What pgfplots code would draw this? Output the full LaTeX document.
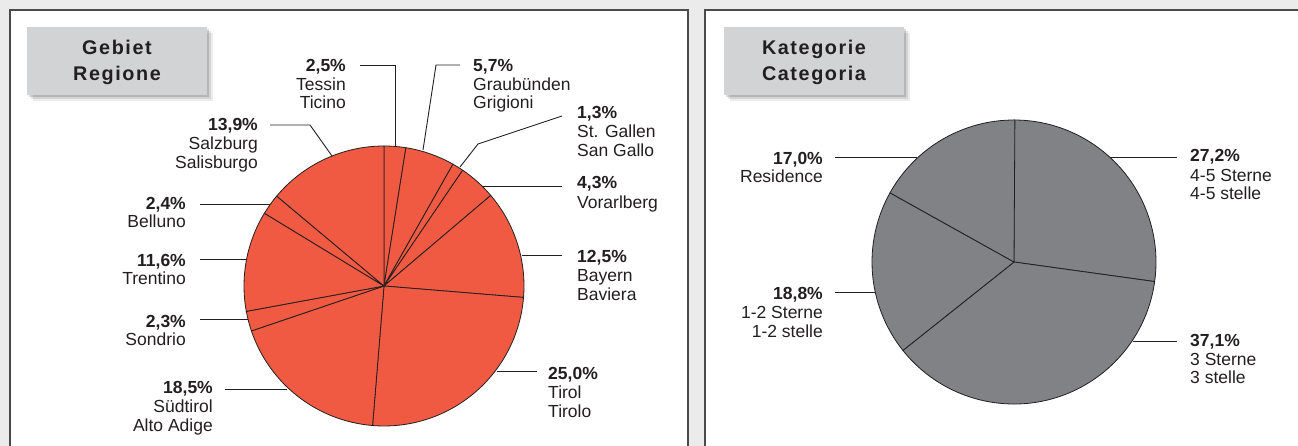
\documentclass[border=0pt]{standalone}
\usepackage{pgfplots}
\usepackage{pgfplotstable}
\pgfplotsset{compat=1.18}
\usepackage{fontspec}
\setmainfont{Liberation Sans}
\newfontfamily\titlefont[LetterSpace=8]{Liberation Sans}
\definecolor{bggray}{HTML}{EAEBEA}
\definecolor{panelborder}{HTML}{4A4A4A}
\definecolor{pieRed}{HTML}{F15A42}
\definecolor{pieGray}{HTML}{808285}
\definecolor{titlebox}{HTML}{D1D3D4}
\definecolor{ink}{HTML}{231F20}
\tikzset{lbl/.style={text=ink, inner sep=0pt, font=\fontsize{17.5}{19}\selectfont},
         ttl/.style={text=ink, inner sep=0pt, anchor=base, font=\titlefont\bfseries\fontsize{19.8}{22}\selectfont}}

% shares in clockwise order, starting at 12 o'clock
\pgfplotstableread{
name share
Tessin 2.5
Graubuenden 5.7
StGallen 1.3
Vorarlberg 4.3
Bayern 12.5
Tirol 25.0
Suedtirol 18.5
Sondrio 2.3
Trentino 11.6
Belluno 2.4
Salzburg 13.9
}\regiontab
\pgfplotstableread{
name share
Stars45 27.2
Stars3 37.1
Stars12 18.8
Residence 17.0
}\cattab

\newcommand\drawpie[5]{% #1 table, #2 cx, #3 cy, #4 radius, #5 colour
  \pgfplotstablegetrowsof{#1}%
  \pgfmathtruncatemacro\lastrow{\pgfplotsretval-1}%
  \gdef\cum{90}%
  \pgfplotsforeachungrouped \i in {0,...,\lastrow}{%
    \pgfplotstablegetelem{\i}{share}\of{#1}%
    \pgfmathsetmacro\endang{\cum-3.6*\pgfplotsretval}%
    \edef\wedgecmd{\noexpand\filldraw[fill=#5,draw=ink,line width=0.8pt,line join=round] (axis cs:#2,#3) -- ++(\cum:#4pt) arc[start angle=\cum,end angle=\endang,radius=#4pt] -- cycle;}%
    \wedgecmd
    \global\let\cum\endang
  }%
}
\newcommand\tbox[2]{% x1 x2
  \fill[black,opacity=0.08] (axis cs:#1+6,33) rectangle (axis cs:#2+6,101);
  \fill[black,opacity=0.10] (axis cs:#1+4,31) rectangle (axis cs:#2+4,99);
  \fill[black,opacity=0.14] (axis cs:#1+2,29) rectangle (axis cs:#2+2,97);
  \fill[titlebox] (axis cs:#1,27) rectangle (axis cs:#2,95);
}

\begin{document}
\begin{tikzpicture}
\useasboundingbox (0,0) rectangle (1298pt,446pt);
\begin{axis}[
  at={(0,0)}, anchor=south west,
  width=1298pt, height=446pt, scale only axis,
  xmin=0, xmax=1298, ymin=0, ymax=446, y dir=reverse,
  hide axis, clip=false,
]
% background and panels
\fill[bggray] (axis cs:0,0) rectangle (axis cs:1298,446);
\filldraw[fill=white, draw=panelborder, line width=1.6pt] (axis cs:10,10) rectangle (axis cs:688,470);
\filldraw[fill=white, draw=panelborder, line width=1.6pt] (axis cs:705,10) rectangle (axis cs:1320,470);

% title boxes
\tbox{27}{207}
\tbox{724}{904}
\node[ttl] at (axis cs:117,55) {Gebiet};
\node[ttl] at (axis cs:117,81) {Regione};
\node[ttl] at (axis cs:814,55) {Kategorie};
\node[ttl] at (axis cs:814,81) {Categoria};

% pies
\drawpie{\regiontab}{384}{286}{140}{pieRed}
\drawpie{\cattab}{1014}{262}{142}{pieGray}

% leader lines, left pie
\begin{scope}[draw=ink, line width=0.9pt]
\draw (axis cs:360,65) -- (axis cs:395,65) -- (axis cs:395,146);
\draw (axis cs:460,65) -- (axis cs:436,65) -- (axis cs:423,150);
\draw (axis cs:562,116) -- (axis cs:478,144) -- (axis cs:460,167);
\draw (axis cs:562,186) -- (axis cs:483,186);
\draw (axis cs:562,255) -- (axis cs:522,255);
\draw (axis cs:537,371) -- (axis cs:497,371);
\draw (axis cs:225,389) -- (axis cs:287,389);
\draw (axis cs:200,319) -- (axis cs:248,319);
\draw (axis cs:200,259) -- (axis cs:246,259);
\draw (axis cs:200,204) -- (axis cs:270,204);
\draw (axis cs:270,125) -- (axis cs:310,125) -- (axis cs:332,156);
% right pie
\draw (axis cs:835,157) -- (axis cs:917,157);
\draw (axis cs:1177,157) -- (axis cs:1110,157);
\draw (axis cs:1177,341) -- (axis cs:1133,341);
\draw (axis cs:835,292) -- (axis cs:875,292);
\end{scope}

% labels, left pie
\node[lbl, anchor=base east] at (axis cs:346,72) {\textbf{2,5\%}};
\node[lbl, anchor=base east] at (axis cs:346,91) {Tessin};
\node[lbl, anchor=base east] at (axis cs:346,109) {Ticino};

\node[lbl, anchor=base west] at (axis cs:473,72) {\textbf{5,7\%}};
\node[lbl, anchor=base west] at (axis cs:473,91) {Graubünden};
\node[lbl, anchor=base west] at (axis cs:473,109) {Grigioni};

\node[lbl, anchor=base west] at (axis cs:577,119) {\textbf{1,3\%}};
\node[lbl, anchor=base west] at (axis cs:577,138) {St. Gallen};
\node[lbl, anchor=base west] at (axis cs:577,157) {San Gallo};

\node[lbl, anchor=base west] at (axis cs:577,189) {\textbf{4,3\%}};
\node[lbl, anchor=base west] at (axis cs:577,208) {Vorarlberg};

\node[lbl, anchor=base west] at (axis cs:577,262) {\textbf{12,5\%}};
\node[lbl, anchor=base west] at (axis cs:577,281) {Bayern};
\node[lbl, anchor=base west] at (axis cs:577,300) {Baviera};

\node[lbl, anchor=base west] at (axis cs:548,379) {\textbf{25,0\%}};
\node[lbl, anchor=base west] at (axis cs:548,398) {Tirol};
\node[lbl, anchor=base west] at (axis cs:548,417) {Tirolo};

\node[lbl, anchor=base east] at (axis cs:213,393) {\textbf{18,5\%}};
\node[lbl, anchor=base east] at (axis cs:213,412) {Südtirol};
\node[lbl, anchor=base east] at (axis cs:213,431) {Alto Adige};

\node[lbl, anchor=base east] at (axis cs:186,327) {\textbf{2,3\%}};
\node[lbl, anchor=base east] at (axis cs:186,345) {Sondrio};

\node[lbl, anchor=base east] at (axis cs:186,266) {\textbf{11,6\%}};
\node[lbl, anchor=base east] at (axis cs:186,284) {Trentino};

\node[lbl, anchor=base east] at (axis cs:186,210) {\textbf{2,4\%}};
\node[lbl, anchor=base east] at (axis cs:186,228) {Belluno};

\node[lbl, anchor=base east] at (axis cs:258,131) {\textbf{13,9\%}};
\node[lbl, anchor=base east] at (axis cs:258,150) {Salzburg};
\node[lbl, anchor=base east] at (axis cs:258,169) {Salisburgo};

% labels, right pie
\node[lbl, anchor=base east] at (axis cs:823,165) {\textbf{17,0\%}};
\node[lbl, anchor=base east] at (axis cs:823,183) {Residence};

\node[lbl, anchor=base west] at (axis cs:1190,162) {\textbf{27,2\%}};
\node[lbl, anchor=base west] at (axis cs:1190,182) {4-5 Sterne};
\node[lbl, anchor=base west] at (axis cs:1190,200) {4-5 stelle};

\node[lbl, anchor=base west] at (axis cs:1190,346) {\textbf{37,1\%}};
\node[lbl, anchor=base west] at (axis cs:1190,365) {3 Sterne};
\node[lbl, anchor=base west] at (axis cs:1190,383) {3 stelle};

\node[lbl, anchor=base east] at (axis cs:823,299) {\textbf{18,8\%}};
\node[lbl, anchor=base east] at (axis cs:823,318) {1-2 Sterne};
\node[lbl, anchor=base east] at (axis cs:823,337) {1-2 stelle};
\end{axis}
\end{tikzpicture}
\end{document}
